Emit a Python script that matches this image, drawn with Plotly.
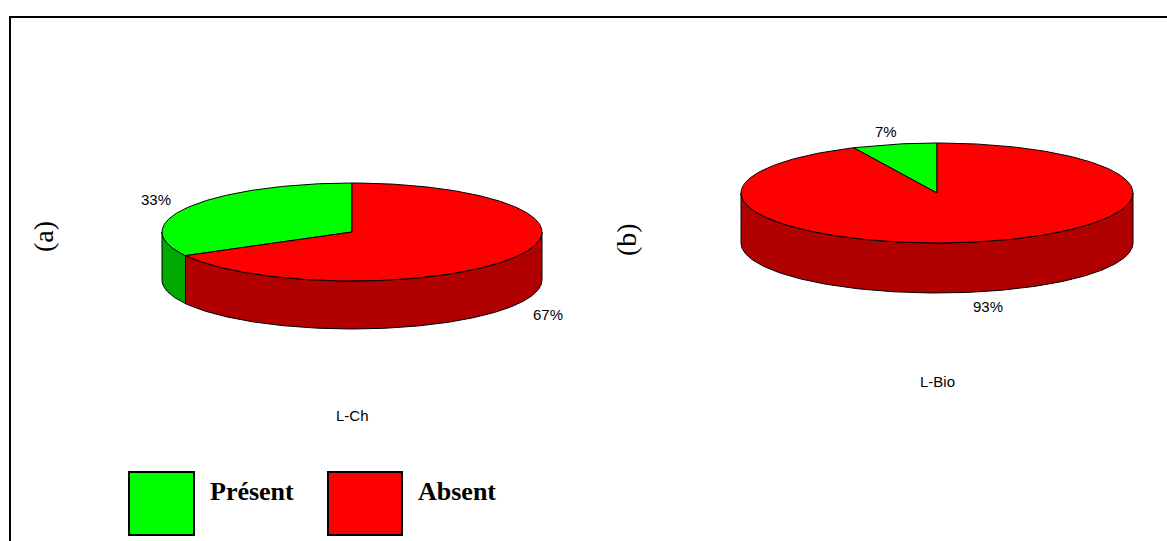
import numpy as np
import plotly.graph_objects as go

# ---------------- data ----------------
categories = ["Présent", "Absent"]
lch_values = [33, 67]
lbio_values = [7, 93]
pie_titles = ["L-Ch", "L-Bio"]
panel_labels = ["(a)", "(b)"]
top_colors = ["#00FF00", "#FF0000"]
side_colors = ["#00AA00", "#B00000"]

# ---------------- layout geometry (pixels) ----------------
W, H = 1167, 541
pies = [
    dict(values=lch_values, cx=352, cy=232, rx=190, ry=49, depth=48,
         title_y=415, label_x=43, label_y=237),
    dict(values=lbio_values, cx=937, cy=193, rx=196, ry=50, depth=50,
         title_y=381, label_x=626, label_y=240),
]

fig = go.Figure()
annotations = []


def ell(p, t, dz=0.0):
    return p["cx"] + p["rx"] * np.cos(t), p["cy"] - p["ry"] * np.sin(t) + dz


for pi, p in enumerate(pies):
    vals = np.array(p["values"], dtype=float)
    total = vals.sum()
    starts = 90 + 360 * np.concatenate([[0], np.cumsum(vals)[:-1]]) / total
    ends = starts + 360 * vals / total

    # side faces (front half: 180..360 deg)
    for i in range(len(vals)):
        lo, hi = max(starts[i], 180), min(ends[i], 360)
        if lo < hi:
            t = np.radians(np.linspace(lo, hi, 200))
            xt, yt = ell(p, t)
            xb, yb = ell(p, t[::-1], p["depth"])
            fig.add_trace(go.Scatter(
                x=np.concatenate([xt, xb, xt[:1]]),
                y=np.concatenate([yt, yb, yt[:1]]),
                mode="lines", fill="toself", fillcolor=side_colors[i],
                line=dict(color="black", width=1), hoverinfo="skip",
                showlegend=False))

    # top faces
    for i in range(len(vals)):
        t = np.radians(np.linspace(starts[i], ends[i], 300))
        xt, yt = ell(p, t)
        fig.add_trace(go.Scatter(
            x=np.concatenate([[p["cx"]], xt, [p["cx"]]]),
            y=np.concatenate([[p["cy"]], yt, [p["cy"]]]),
            mode="lines", fill="toself", fillcolor=top_colors[i],
            line=dict(color="black", width=1), hoverinfo="skip",
            showlegend=False))

    # percent labels
    for i in range(len(vals)):
        m = np.radians((starts[i] + ends[i]) / 2)
        lx = p["cx"] + 1.2 * p["rx"] * np.cos(m)
        ly = p["cy"] - 1.2 * p["ry"] * np.sin(m)
        if np.sin(m) < 0:
            ly += p["depth"] + 5
        else:
            ly -= 3
        annotations.append(dict(
            x=lx, y=ly, xref="x", yref="y", showarrow=False,
            text=f"{round(100 * vals[i] / total)}%",
            font=dict(family="Liberation Sans, Arial", size=15, color="black")))

    # pie title
    annotations.append(dict(
        x=p["cx"], y=p["title_y"], xref="x", yref="y", showarrow=False,
        text=pie_titles[pi],
        font=dict(family="Liberation Sans, Arial", size=15, color="black")))

    # panel label
    annotations.append(dict(
        x=p["label_x"], y=p["label_y"], xref="x", yref="y", showarrow=False,
        text=panel_labels[pi], textangle=-90,
        font=dict(family="Liberation Serif, Times New Roman", size=28, color="black")))

# ---------------- legend (boxes + labels) ----------------
legend_boxes = [(129, 194), (328, 402)]
shapes = []
for i, (x0, x1) in enumerate(legend_boxes):
    shapes.append(dict(type="rect", xref="x", yref="y", x0=x0, x1=x1, y0=472, y1=535,
                       fillcolor=top_colors[i], line=dict(color="black", width=2)))
    annotations.append(dict(
        x=x1 + 14, y=491, xref="x", yref="y", showarrow=False,
        xanchor="left", yanchor="middle", text=f"<b>{categories[i]}</b>",
        font=dict(family="Liberation Serif, Times New Roman", size=26, color="black")))

# frame lines
shapes.append(dict(type="line", xref="x", yref="y", x0=10, x1=10, y0=16, y1=H + 5,
                   line=dict(color="black", width=2)))
shapes.append(dict(type="line", xref="x", yref="y", x0=9, x1=W + 5, y0=17, y1=17,
                   line=dict(color="black", width=2)))

fig.update_layout(
    width=W, height=H,
    margin=dict(l=0, r=0, t=0, b=0),
    paper_bgcolor="white", plot_bgcolor="white",
    xaxis=dict(range=[0, W], visible=False, fixedrange=True),
    yaxis=dict(range=[H, 0], visible=False, fixedrange=True),
    shapes=shapes, annotations=annotations,
    showlegend=False, hovermode=False,
)

fig.write_html("out.html")
